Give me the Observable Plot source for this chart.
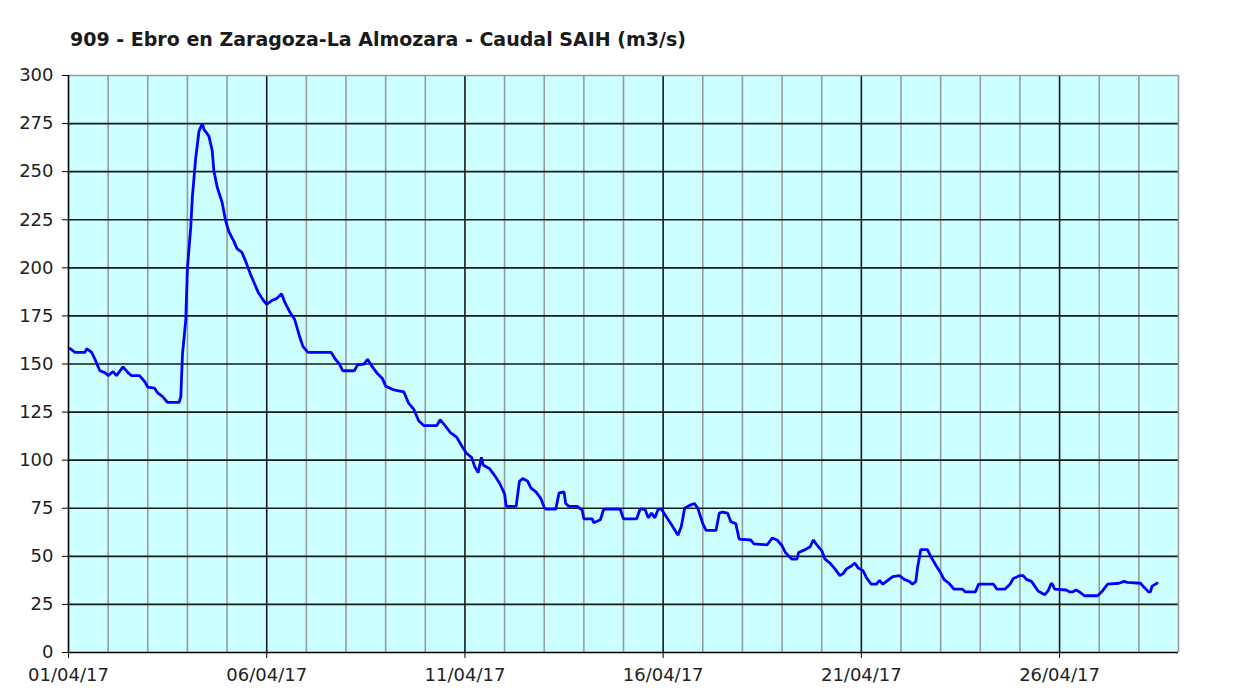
<!DOCTYPE html>
<html>
<head>
<meta charset="utf-8">
<script src="https://cdn.jsdelivr.net/npm/d3@7"></script>
<script src="https://cdn.jsdelivr.net/npm/@observablehq/plot@0.6"></script>
<style>
  html, body { margin: 0; padding: 0; background: #ffffff; }
  #chart { width: 1259px; height: 693px; overflow: hidden; }
  #title {
    box-sizing: border-box; height: 55px; padding: 30px 0 0 70px;
    font-family: "DejaVu Sans", Verdana, sans-serif; font-weight: bold;
    font-size: 19px; line-height: 19px; color: #1a1a1a; white-space: nowrap;
  }
</style>
</head>
<body>
<div id="chart">
  <div id="title">909 - Ebro en Zaragoza-La Almozara - Caudal SAIH (m3/s)</div>
</div>
<script>
// Title
const titleText = "909 - Ebro en Zaragoza-La Almozara - Caudal SAIH (m3/s)";

// Hours elapsed since 01/04/17 00:00 for each reading
const hours = [
  1, 4, 10, 11, 14, 16, 19, 22, 24, 27, 29, 33, 36, 38, 43, 46, 48, 52, 54, 57,
  60, 67, 68, 69, 71, 72, 74, 75, 76, 77, 78, 79, 81, 82, 85, 87, 88, 90, 93, 95,
  97, 100, 102, 105, 107, 110, 112, 115, 118, 120, 123, 126, 129, 131, 134, 137, 140, 142, 145,
  159, 162, 164, 166, 173, 175, 179, 181, 184, 187, 190, 192, 197, 203, 206, 209, 212, 215,
  223, 225, 228, 231, 235, 238, 241, 244, 246, 248, 250, 251, 255, 258, 261, 264, 265,
  271, 273, 275, 278, 280, 283, 286, 288, 289, 295, 297, 300, 301, 303, 308, 311, 312,
  317, 318, 322, 324, 334, 336, 344, 346, 349, 351, 353, 355, 357, 359, 362, 365, 369,
  371, 373, 376, 379, 381, 384, 386, 392, 394, 396, 399, 401, 404, 406, 413, 415, 423,
  426, 429, 432, 434, 438, 441, 442, 446, 449, 451, 453, 456, 458, 461, 464, 467, 469,
  471, 474, 476, 478, 481, 483, 486, 489, 491, 493, 496, 499, 503, 506, 509, 511, 513,
  514, 516, 520, 522, 525, 528, 530, 533, 536, 541, 543, 549, 551, 560, 562, 567, 570,
  572, 576, 578, 580, 583, 585, 587, 591, 593, 595, 596, 597, 604, 606, 608, 610, 612,
  615, 623, 626, 629, 636, 639, 641, 649, 651, 654, 655, 656, 659
];

// Caudal (m3/s) for each reading
const flow = [
  158, 156, 156, 158, 156, 152.5, 146.5, 145.5, 144, 146, 144, 148.5, 145.5, 144, 144, 141, 138, 137.5, 135, 133,
  130, 130, 133, 155, 173, 200, 221, 237, 247, 257, 264, 271, 275, 272, 268.5, 261, 250.5, 242, 234, 225,
  219, 214, 210, 208, 204, 197, 193, 187, 183, 181, 183, 184, 186.5, 182, 177, 173, 164, 159, 156,
  156, 152, 150, 146.5, 146.5, 149.5, 150, 152.5, 148.5, 145, 142.5, 138.5, 136.5, 135.5, 129.5, 126.5, 120.5, 118,
  118, 121, 118, 114.5, 112, 107.5, 103.5, 101.5, 96.5, 93.5, 101.5, 97.5, 95.5, 92, 88, 82.5, 76,
  76, 89, 90.5, 89, 85.5, 83.5, 80, 75.5, 74.5, 74.5, 83, 83.5, 77.5, 76, 76, 74, 69.5,
  69.5, 67.5, 69, 74.5, 74.5, 69.5, 69.5, 74.5, 74.5, 70, 72.5, 70, 74.5, 74.5, 70.5, 66.5, 61,
  65.5, 75, 76.5, 77.5, 75, 67, 63.5, 63.5, 72.5, 73, 72.5, 68, 67, 59, 58.5, 56.5, 56,
  59.5, 58.5, 55.5, 52, 48.5, 48.5, 52, 53.5, 55, 58.5, 56, 53, 48.5, 46.5, 43.5, 40, 41,
  43.5, 45, 46.5, 44, 42.5, 39, 35.5, 35.5, 37.5, 35.5, 37.5, 39.5, 40, 38, 37, 35.5, 37,
  44, 53.5, 53.5, 50, 45.5, 41.5, 38, 36, 33, 33, 31.5, 31.5, 35.5, 35.5, 33, 33, 35.5,
  38.5, 40, 40, 38, 37, 34.5, 32, 30, 32, 36, 35, 33, 32.5, 31.5, 31.5, 32.5, 31.5,
  29.5, 29.5, 32, 35.5, 36, 37, 36.5, 36, 34, 31.5, 31.5, 34.5, 36
];

// Axis ticks
const yTicks = [0, 25, 50, 75, 100, 125, 150, 175, 200, 225, 250, 275, 300];
const xTickLabels = ["01/04/17", "06/04/17", "11/04/17", "16/04/17", "21/04/17", "26/04/17"];

const t0 = Date.UTC(2017, 3, 1);
const start = new Date(t0);
const end = new Date(Date.UTC(2017, 3, 29));
const data = hours.map((h, i) => ({date: new Date(t0 + h * 3600e3), value: flow[i]}));

const parseLabel = d3.utcParse("%d/%m/%y");
const majorDays = xTickLabels.map(parseLabel);
const allDays = d3.utcDay.range(new Date(Date.UTC(2017, 3, 2)), end);
const minorDays = allDays.filter(d => d.getUTCDate() % 5 !== 1);
const innerY = yTicks.filter(v => v > 0 && v < 300);

const chart = Plot.plot({
  width: 1259,
  height: 638,
  marginTop: 20,
  marginBottom: 41,
  marginLeft: 68,
  marginRight: 81,
  style: {fontFamily: "DejaVu Sans, Verdana, sans-serif", fontSize: "18px", background: "#ffffff", color: "#222"},
  x: {type: "utc", domain: [start, end]},
  y: {domain: [0, 300]},
  marks: [
    Plot.frame({fill: "#ccffff", stroke: "none"}),
    Plot.ruleX(minorDays, {stroke: "#9a9a9a", strokeWidth: 1.6}),
    Plot.ruleY(innerY, {stroke: "#1a1a1a", strokeWidth: 1.6}),
    Plot.ruleX(majorDays.slice(1), {stroke: "#1a1a1a", strokeWidth: 1.6}),
    Plot.ruleY([300], {stroke: "#9a9a9a", strokeWidth: 1.6}),
    Plot.ruleX([end], {stroke: "#9a9a9a", strokeWidth: 1.6}),
    Plot.line(data, {x: "date", y: "value", stroke: "#0000ff", strokeWidth: 2.8, strokeLinejoin: "miter"}),
    Plot.ruleX([start], {stroke: "#000", strokeWidth: 1.6}),
    Plot.ruleY([0], {stroke: "#000", strokeWidth: 1.6}),
    Plot.axisY(yTicks, {tickSize: 6, tickPadding: 9, stroke: "#000", label: null, fill: "#222"}),
    Plot.axisX(majorDays, {tickSize: 6, tickPadding: 10, stroke: "#000", label: null, fill: "#222",
      tickFormat: d3.utcFormat("%d/%m/%y")})
  ]
});

document.getElementById("chart").appendChild(chart);
</script>
</body>
</html>
